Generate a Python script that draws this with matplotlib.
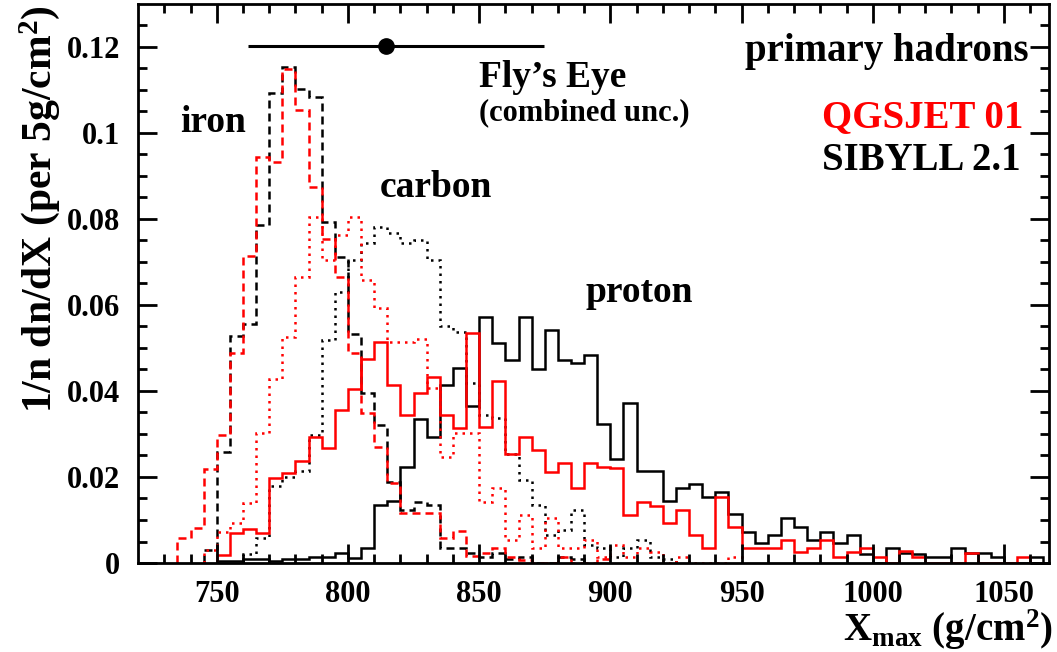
import matplotlib
matplotlib.use("Agg")
import matplotlib.pyplot as plt
import numpy as np

# bin width 5 g/cm2, each series listed from its first bin edge
BIN = 5

iron_q_start = 735
iron_q = [0.0059, 0.0081, 0.0218, 0.0298, 0.0488, 0.0714, 0.0945, 0.0933, 0.1148, 0.1053,
          0.0875, 0.0753, 0.0666, 0.0488, 0.0348, 0.0270, 0.0185, 0.0116, 0.0116, 0.0116,
          0.0057, 0.0074, 0.0017, 0.0023, 0.0034, 0.0015, 0.0008, 0.0, 0.0, 0.0015,
          0.0, 0.0, 0.0010]

iron_s_start = 745
iron_s = [0.0030, 0.0259, 0.0528, 0.0556, 0.0786, 0.1092, 0.1153, 0.1102, 0.1083, 0.0794,
          0.0712, 0.0533, 0.0395, 0.0321, 0.0189, 0.0123, 0.0143, 0.0135, 0.0034, 0.0034,
          0.0024, 0.0015, 0.0024, 0.0010, 0.0015, 0.0, 0.0, 0.0015, 0.0010]

carbon_q_start = 745
carbon_q = [0.0030, 0.0071, 0.0092, 0.0139, 0.0302, 0.0428, 0.0525, 0.0666, 0.0805, 0.0705,
            0.0763, 0.0804, 0.0658, 0.0592, 0.0515, 0.0515, 0.0520, 0.0406, 0.0247, 0.0302,
            0.0302, 0.0143, 0.0174, 0.0053, 0.0112, 0.0034, 0.0105, 0.0034, 0.0034, 0.0053,
            0.0015, 0.0042, 0.0015, 0.0034, 0.0025, 0.0, 0.0015, 0.0, 0.0, 0.0, 0.0015]

carbon_s_start = 760
carbon_s = [0.0020, 0.0058, 0.0180, 0.0200, 0.0215, 0.0298, 0.0519, 0.0631, 0.0705, 0.0743,
            0.0782, 0.0767, 0.0743, 0.0752, 0.0705, 0.0550, 0.0538, 0.0418, 0.0344, 0.0337,
            0.0253, 0.0193, 0.0135, 0.0066, 0.0077, 0.0123, 0.0042, 0.0034, 0.0015, 0.0034,
            0.0053, 0.0015, 0.0010]

proton_q_start = 750
proton_q = [0.0019, 0.0070, 0.0080, 0.0070, 0.0197, 0.0209, 0.0238, 0.0294, 0.0267, 0.0356,
            0.0404, 0.0474, 0.0513, 0.0414, 0.0344, 0.0395, 0.0433, 0.0344, 0.0315, 0.0534,
            0.0316, 0.0424, 0.0253, 0.0294, 0.0263, 0.0212, 0.0233, 0.0174, 0.0233, 0.0224,
            0.0220, 0.0112, 0.0143, 0.0133, 0.0092, 0.0123, 0.0065, 0.0036, 0.0154, 0.0084,
            0.0036, 0.0036, 0.0034, 0.0053, 0.0026, 0.0034, 0.0053, 0.0014, 0.0026, 0.0034,
            0.0014, 0.0, 0.0029, 0.0014, 0.0, 0.0, 0.0, 0.0024, 0.0, 0.0,
            0.0, 0.0014, 0.0]

proton_s_start = 750
proton_s = [0.0005, 0.0005, 0.0010, 0.0010, 0.0005, 0.0010, 0.0010, 0.0015, 0.0015, 0.0024,
            0.0011, 0.0034, 0.0135, 0.0145, 0.0224, 0.0334, 0.0292, 0.0414, 0.0453, 0.0364,
            0.0573, 0.0512, 0.0472, 0.0573, 0.0451, 0.0542, 0.0472, 0.0464, 0.0484, 0.0323,
            0.0243, 0.0373, 0.0215, 0.0215, 0.0145, 0.0174, 0.0183, 0.0153, 0.0164, 0.0114,
            0.0073, 0.0046, 0.0065, 0.0104, 0.0084, 0.0053, 0.0073, 0.0046, 0.0065, 0.0021,
            0.0, 0.0034, 0.0024, 0.0021, 0.0014, 0.0014, 0.0034, 0.0024, 0.0024, 0.0014,
            0.0, 0.0, 0.0014]

# Fly's Eye measurement (combined uncertainty)
fe_x = 814.6
fe_y = 0.1202
fe_err_lo = 52.6
fe_err_hi = 60.2

plt.rcParams["font.family"] = ["Liberation Serif", "DejaVu Serif"]
plt.rcParams["font.weight"] = "bold"
plt.rcParams["mathtext.fontset"] = "custom"
plt.rcParams["mathtext.rm"] = "Liberation Serif:bold"
plt.rcParams["mathtext.it"] = "Liberation Serif:bold:italic"
plt.rcParams["mathtext.bf"] = "Liberation Serif:bold"

fig = plt.figure(figsize=(10.57, 6.52), dpi=100)
ax = fig.add_axes([0.1306, 0.1365, 0.8614, 0.8574])

LW = 1.8
DASH = (0, (3.2, 2.0))
DOT = (0, (1.0, 2.0))


def draw(vals, start, color, ls):
    edges = start + BIN * np.arange(len(vals) + 1)
    ax.stairs(vals, edges, baseline=0, color=color, linestyle=ls, linewidth=LW)


draw(proton_s, proton_s_start, "black", "-")
draw(carbon_s, carbon_s_start, "black", DOT)
draw(iron_s, iron_s_start, "black", DASH)
draw(proton_q, proton_q_start, "red", "-")
draw(carbon_q, carbon_q_start, "red", DOT)
draw(iron_q, iron_q_start, "red", DASH)

ax.errorbar([fe_x], [fe_y], xerr=[[fe_err_lo], [fe_err_hi]], fmt="o", color="black",
            markersize=11, elinewidth=2.2, capsize=0)

ax.set_xlim(720, 1067)
ax.set_ylim(0, 0.13)
ax.set_xticks(np.arange(750, 1051, 50))
ax.set_xticks(np.arange(730, 1067, 10), minor=True)
ax.set_yticks(np.arange(0, 0.121, 0.02))
ax.set_yticks(np.arange(0, 0.13, 0.005), minor=True)
ax.set_yticklabels(["0", "0.02", "0.04", "0.06", "0.08", "0.1", "0.12"])
ax.tick_params(which="both", direction="in", top=True, right=True, width=2,
               labelsize=22)
ax.tick_params(which="major", length=14)
ax.tick_params(which="minor", length=6.5)
ax.tick_params(axis="x", pad=12)
ax.tick_params(axis="y", pad=13)
for s in ax.spines.values():
    s.set_linewidth(2)

# labels
fig.text(0.037, 0.993, r"1/n dn/dX (per 5g/cm$^2$)", rotation=90, ha="center",
         va="top", fontsize=30, fontweight="bold")
fig.text(0.996, 0.0, r"X$_{\rm max}$ (g/cm$^2$)", ha="right", va="bottom",
         fontsize=28, fontweight="bold")

ax.text(748.5, 0.1025, "iron", ha="center", va="center", fontsize=27)
ax.text(833.4, 0.0874, "carbon", ha="center", va="center", fontsize=27)
ax.text(911, 0.0628, "proton", ha="center", va="center", fontsize=27)
ax.text(850, 0.1130, "Fly\u2019s Eye", ha="left", va="center", fontsize=27)
ax.text(850, 0.1047, "(combined unc.)", ha="left", va="center", fontsize=22)
ax.text(1059.5, 0.1190, "primary hadrons", ha="right", va="center", fontsize=28)
ax.text(1057.4, 0.1035, "QGSJET 01", ha="right", va="center", fontsize=28, color="red")
ax.text(1056.2, 0.0935, "SIBYLL 2.1", ha="right", va="center", fontsize=28)

fig.savefig("out.png", dpi=100)
